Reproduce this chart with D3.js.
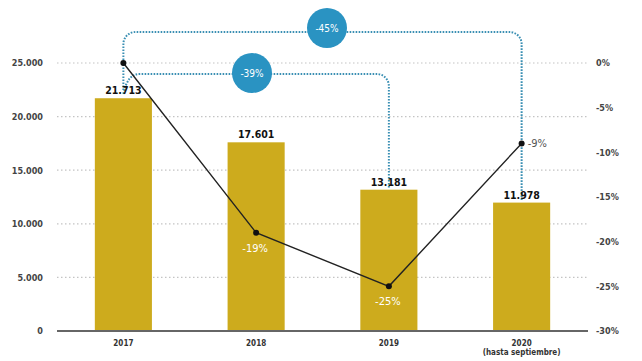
<!DOCTYPE html>
<html>
<head>
<meta charset="utf-8">
<script src="https://cdn.jsdelivr.net/npm/d3@7"></script>
<style>
  body { margin: 0; background: #fff; }
  svg text { font-family: "DejaVu Sans", sans-serif; font-stretch: condensed; }
</style>
</head>
<body>
<svg id="chart" width="642" height="361"></svg>
<script>
var years = ['2017', '2018', '2019', '2020'];
var yearSub = ['', '', '', '(hasta septiembre)'];
var totals = [21713, 17601, 13181, 11978];
var totalLabels = ['21.713', '17.601', '13.181', '11.978'];
var changes = [0, -19, -25, -9];
var leftTicks = [0, 5000, 10000, 15000, 20000, 25000];
var rightTicks = [0, -5, -10, -15, -20, -25, -30];
// comparisons: from year index to year index, with the label
var compares = [
  { from: 0, to: 3, label: '-45%' },
  { from: 0, to: 2, label: '-39%' }
];

var svg = d3.select('#chart');
var gold = '#cdab1d', blue = '#2a93c2';
var font = '"DejaVu Sans", sans-serif';

var x = d3.scaleBand().domain(years).range([57, 588]).paddingInner(0.57).paddingOuter(0.285);
var y = d3.scaleLinear().domain([0, 25000]).range([331, 63]);
var y2 = d3.scaleLinear().domain([-30, 0]).range([331, 63]);
var cx = function(i) { return x(years[i]) + x.bandwidth() / 2; };

// grid
svg.append('g').selectAll('line')
  .data(leftTicks.filter(function(d) { return d > 0; }))
  .enter().append('line')
  .attr('x1', 57).attr('x2', 588)
  .attr('y1', function(d) { return y(d); }).attr('y2', function(d) { return y(d); })
  .attr('stroke', '#c4c4c4').attr('stroke-width', 1.2)
  .attr('stroke-dasharray', '1.5 2.5');

// left axis
var yAxis = svg.append('g').attr('transform', 'translate(46,0)')
  .call(d3.axisLeft(y).tickValues(leftTicks).tickSize(0)
    .tickFormat(function(d) { return d3.format(',')(d).replace(/,/g, '.'); }));
yAxis.select('.domain').remove();
yAxis.selectAll('text').attr('font-size', 9).attr('font-weight', 'bold').attr('fill', '#444')
  .style('font-family', font).style('font-stretch', 'condensed');

// right axis
var y2Axis = svg.append('g').attr('transform', 'translate(593,0)')
  .call(d3.axisRight(y2).tickValues(rightTicks).tickSize(0)
    .tickFormat(function(d) { return d + '%'; }));
y2Axis.select('.domain').remove();
y2Axis.selectAll('text').attr('font-size', 9).attr('font-weight', 'bold').attr('fill', '#444')
  .style('font-family', font).style('font-stretch', 'condensed');

// bars
svg.append('g').selectAll('rect')
  .data(totals)
  .enter().append('rect')
  .attr('x', function(d, i) { return x(years[i]); })
  .attr('width', x.bandwidth())
  .attr('y', function(d) { return y(d); })
  .attr('height', function(d) { return y(0) - y(d); })
  .attr('fill', gold);

// baseline
svg.append('line')
  .attr('x1', 57).attr('x2', 588).attr('y1', y(0)).attr('y2', y(0))
  .attr('stroke', '#666').attr('stroke-width', 2);

// connectors
var r = 12;
var connectors = svg.append('g');
compares.forEach(function(c, k) {
  var x0 = cx(c.from), x1 = cx(c.to);
  var top = k == 0 ? 32 : 74;
  var start = k == 0 ? 90 : 94;
  var end = y(totals[c.to]) - 2;
  var p = d3.path();
  if (k == 0) {
    p.moveTo(x0, start);
    p.lineTo(x0, top + r);
    p.arcTo(x0, top, x0 + r, top, r);
  } else {
    p.moveTo(x0, start);
    p.quadraticCurveTo(x0 + 4, top, x0 + 16, top);
  }
  p.lineTo(x1 - r, top);
  p.arcTo(x1, top, x1, top + r, r);
  p.lineTo(x1, end);
  connectors.append('path')
    .attr('d', p.toString())
    .attr('fill', 'none')
    .attr('stroke', '#3a8fb3')
    .attr('stroke-width', 2)
    .attr('stroke-dasharray', '1.6 1.4');
});

var badgeX = [327, 252], badgeY = [28, 73];
compares.forEach(function(c, k) {
  svg.append('circle').attr('cx', badgeX[k]).attr('cy', badgeY[k]).attr('r', 20).attr('fill', blue);
  svg.append('text').attr('x', badgeX[k]).attr('y', badgeY[k] + 3.5)
    .attr('text-anchor', 'middle').attr('font-size', 10).attr('fill', '#fff')
    .text(c.label);
});

// bar value labels
svg.append('g').selectAll('text')
  .data(totalLabels)
  .enter().append('text')
  .attr('x', function(d, i) { return cx(i); })
  .attr('y', function(d, i) { return y(totals[i]) - 4; })
  .attr('text-anchor', 'middle').attr('font-size', 10.5).attr('font-weight', 'bold').attr('fill', '#111')
  .text(function(d) { return d; });

// line
var line = d3.line()
  .x(function(d, i) { return cx(i); })
  .y(function(d) { return y2(d); });
svg.append('path').datum(changes)
  .attr('d', line).attr('fill', 'none')
  .attr('stroke', '#222').attr('stroke-width', 1.4);
svg.append('g').selectAll('circle')
  .data(changes)
  .enter().append('circle')
  .attr('cx', function(d, i) { return cx(i); })
  .attr('cy', function(d) { return y2(d); })
  .attr('r', 3).attr('fill', '#111');

// change labels
changes.forEach(function(d, i) {
  if (i == 0) return;
  var t = svg.append('text').attr('font-size', 11).text(d + '%');
  if (i == 3) {
    t.attr('x', cx(i) + 6).attr('y', y2(d) + 4).attr('fill', '#555');
  } else {
    t.attr('x', cx(i) - 1).attr('y', y2(d) + 19).attr('text-anchor', 'middle').attr('fill', '#fff');
  }
});

// x labels
svg.append('g').selectAll('text')
  .data(years)
  .enter().append('text')
  .attr('x', function(d, i) { return cx(i); })
  .attr('y', 346)
  .attr('text-anchor', 'middle').attr('font-size', 8).attr('font-weight', 'bold').attr('fill', '#333')
  .text(function(d) { return d; });
svg.append('g').selectAll('text')
  .data(yearSub)
  .enter().append('text')
  .attr('x', function(d, i) { return cx(i); })
  .attr('y', 355)
  .attr('text-anchor', 'middle').attr('font-size', 8).attr('font-weight', 'bold').attr('fill', '#333')
  .text(function(d) { return d; });
</script>
</body>
</html>
